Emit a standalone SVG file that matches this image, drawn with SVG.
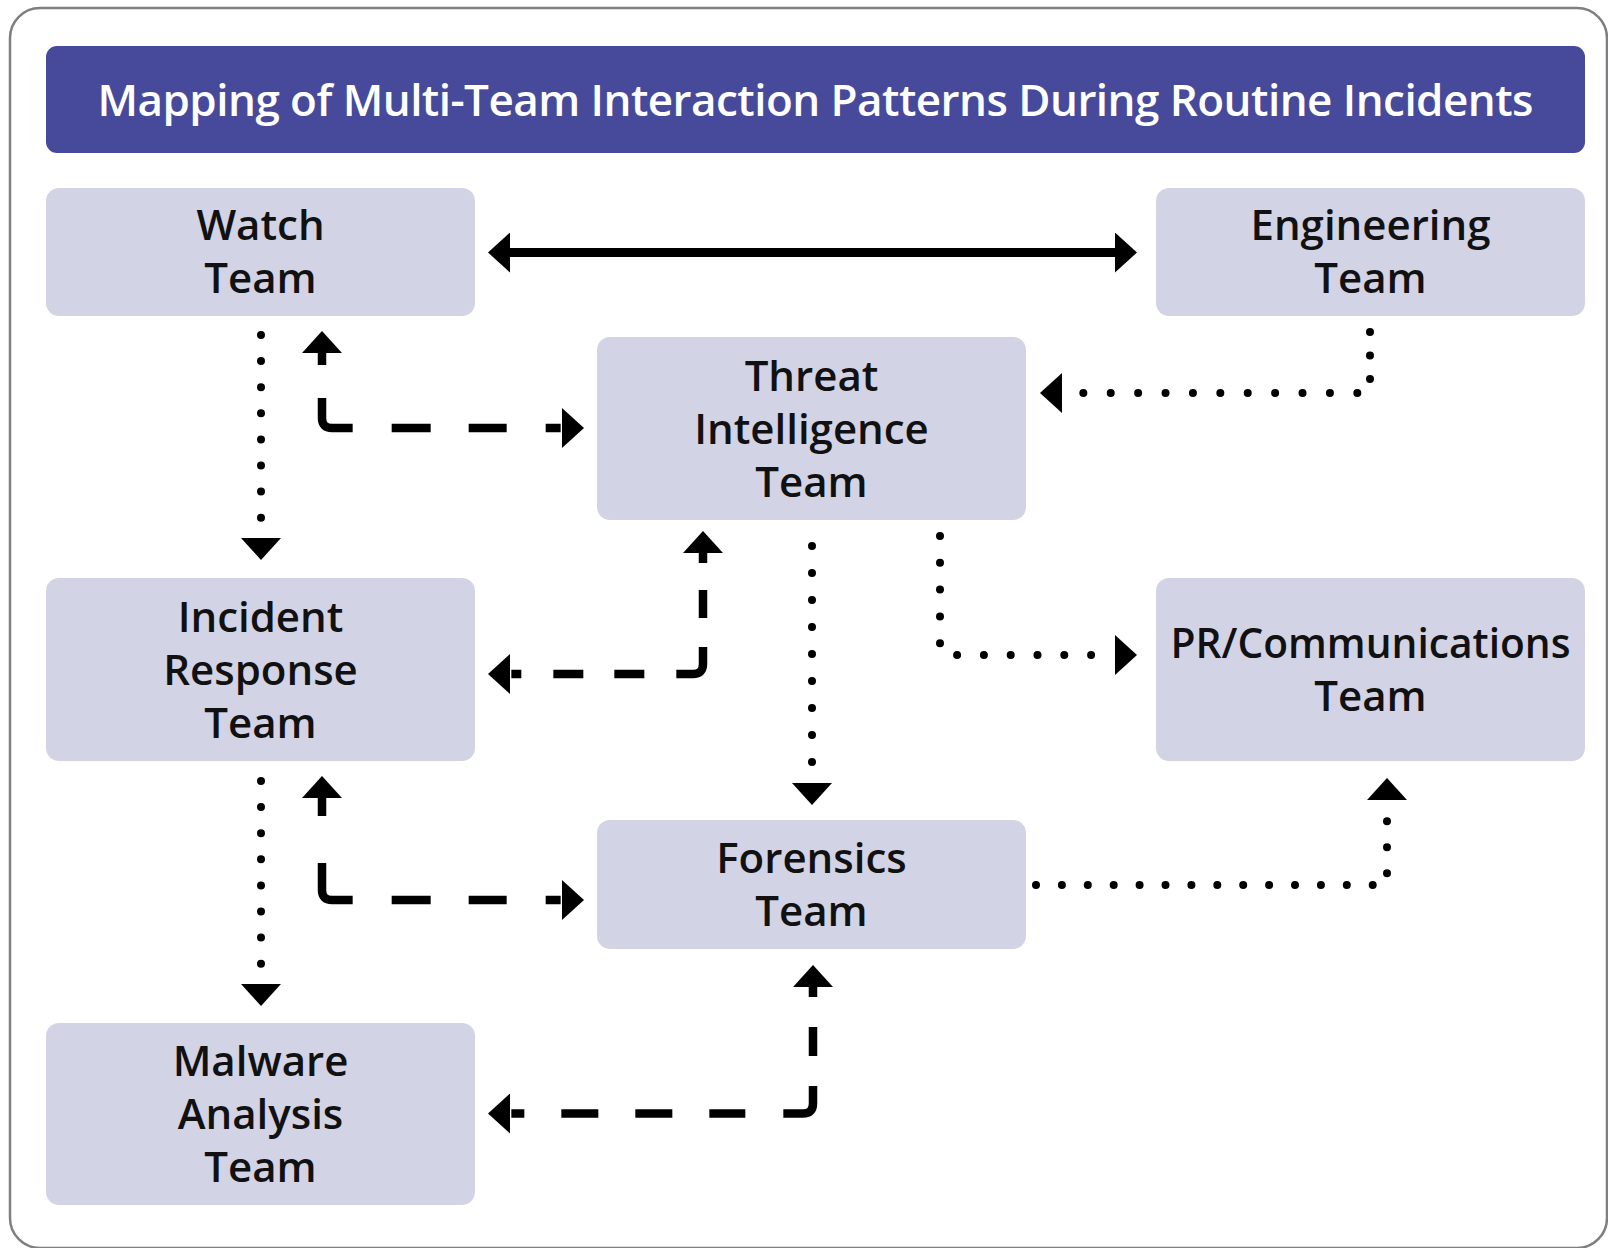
<svg xmlns="http://www.w3.org/2000/svg" width="1608" height="1248" viewBox="0 0 1608 1248">
  <style>
    .node rect { fill: #D3D3E6; }
    .node text { font-family: "Open Sans", "Noto Sans", "Liberation Sans", sans-serif; font-weight: 600; font-size: 42px; fill: #111111; text-anchor: middle; }
    .title text { font-family: "Open Sans", "Noto Sans", "Liberation Sans", sans-serif; font-weight: 600; font-size: 44px; fill: #ffffff; text-anchor: middle; }
    .solid { fill: none; stroke: #000; stroke-width: 9; }
    .dash { fill: none; stroke: #000; stroke-width: 8.5; stroke-linecap: butt; }
    .dot { fill: none; stroke: #000; stroke-width: 8; stroke-linecap: round; }
  </style>
  <defs>
    <marker id="ah" viewBox="0 -20 22 40" refX="0" refY="0" markerWidth="22" markerHeight="40" markerUnits="userSpaceOnUse" orient="auto-start-reverse">
      <path d="M0,-20 L22,0 L0,20 Z" fill="#000"/>
    </marker>
  </defs>
  <rect x="0" y="0" width="1608" height="1248" fill="#ffffff"/>
  <rect x="10" y="8" width="1597" height="1240" rx="30" ry="30" fill="#ffffff" stroke="#7f7f7f" stroke-width="2.5"/>

  <g id="title" class="title">
    <rect x="46" y="46" width="1539" height="107" rx="11" ry="11" fill="#474A9A"/>
    <text x="815.5" y="116" textLength="1436" lengthAdjust="spacing">Mapping of Multi-Team Interaction Patterns During Routine Incidents</text>
  </g>

  <g id="connectors">
    <!-- Watch <-> Engineering (solid) -->
    <path class="solid" d="M510,252.5 H1115" marker-start="url(#ah)" marker-end="url(#ah)"/>
    <!-- Watch -> Incident Response (dotted) -->
    <path class="dot" d="M261,335 V538" stroke-dasharray="0 26.1" marker-end="url(#ah)"/>
    <!-- Incident Response -> Malware (dotted) -->
    <path class="dot" d="M261,781 V984" stroke-dasharray="0 26.1" marker-end="url(#ah)"/>
    <!-- Threat -> Forensics (dotted) -->
    <path class="dot" d="M812,546 V783" stroke-dasharray="0 27" marker-end="url(#ah)"/>
    <!-- Engineering -> Threat (dotted) -->
    <path class="dot" d="M1370,332 V383 Q1370,393 1360,393 H1062" stroke-dasharray="0 23.5 0 23.5 0 22.8 0 27.4 0 27.4 0 27.4 0 27.4 0 27.4 0 27.4 0 27.4 0 27.4 0 27.4 0 27.4 0 40" marker-end="url(#ah)"/>
    <!-- Threat -> PR (dotted) -->
    <path class="dot" d="M940,536 V650 Q940,655 945,655 H1115" stroke-dasharray="0 26.8" marker-end="url(#ah)"/>
    <!-- Forensics -> PR (dotted) -->
    <path class="dot" d="M1036,885 H1377 Q1387,885 1387,875 V800" stroke-dasharray="0 25.9 0 25.9 0 25.9 0 25.9 0 25.9 0 25.9 0 25.9 0 25.9 0 25.9 0 25.9 0 25.9 0 25.9 0 25.9 0 22.1 0 26 0 26 0 40" marker-end="url(#ah)"/>
    <!-- Watch <-> Threat (dashed) -->
    <path class="dash" d="M322,353 V418 Q322,428 332,428 H562" stroke-dasharray="12 33 56.8 39 39 38 38 39 15" marker-start="url(#ah)" marker-end="url(#ah)"/>
    <!-- Incident Response <-> Forensics (dashed) -->
    <path class="dash" d="M322,798 V890 Q322,900 332,900 H562" stroke-dasharray="18 47 63.8 39 39 38 38 39 15" marker-start="url(#ah)" marker-end="url(#ah)"/>
    <!-- Threat <-> Incident Response (dashed) -->
    <path class="dash" d="M703,553 V664 Q703,674 693,674 H510" stroke-dasharray="10 27 28 29 49.8 32 30 31 30 32 10" marker-start="url(#ah)" marker-end="url(#ah)"/>
    <!-- Forensics <-> Malware (dashed) -->
    <path class="dash" d="M813,987 V1103.5 Q813,1113.5 803,1113.5 H510" stroke-dasharray="10 30 29 30 53.3 38 36 37 37 37 37 37 13" marker-start="url(#ah)" marker-end="url(#ah)"/>
  </g>

  <g id="watch-team" class="node">
    <rect x="46" y="188" width="429" height="128" rx="13" ry="13"/>
    <text x="260.5" y="240">Watch</text>
    <text x="260.5" y="293">Team</text>
  </g>
  <g id="engineering-team" class="node">
    <rect x="1156" y="188" width="429" height="128" rx="13" ry="13"/>
    <text x="1370.5" y="240">Engineering</text>
    <text x="1370.5" y="293">Team</text>
  </g>
  <g id="threat-intelligence-team" class="node">
    <rect x="597" y="337" width="429" height="183" rx="13" ry="13"/>
    <text x="811.5" y="390.5">Threat</text>
    <text x="811.5" y="443.5">Intelligence</text>
    <text x="811.5" y="496.5">Team</text>
  </g>
  <g id="incident-response-team" class="node">
    <rect x="46" y="578" width="429" height="183" rx="13" ry="13"/>
    <text x="260.5" y="631.5">Incident</text>
    <text x="260.5" y="684.5">Response</text>
    <text x="260.5" y="737.5">Team</text>
  </g>
  <g id="pr-communications-team" class="node">
    <rect x="1156" y="578" width="429" height="183" rx="13" ry="13"/>
    <text x="1370.5" y="658" textLength="400" lengthAdjust="spacingAndGlyphs">PR/Communications</text>
    <text x="1370.5" y="711">Team</text>
  </g>
  <g id="forensics-team" class="node">
    <rect x="597" y="820" width="429" height="129" rx="13" ry="13"/>
    <text x="811.5" y="872.5">Forensics</text>
    <text x="811.5" y="925.5">Team</text>
  </g>
  <g id="malware-analysis-team" class="node">
    <rect x="46" y="1023" width="429" height="182" rx="13" ry="13"/>
    <text x="260.5" y="1076">Malware</text>
    <text x="260.5" y="1129">Analysis</text>
    <text x="260.5" y="1182">Team</text>
  </g>
</svg>
